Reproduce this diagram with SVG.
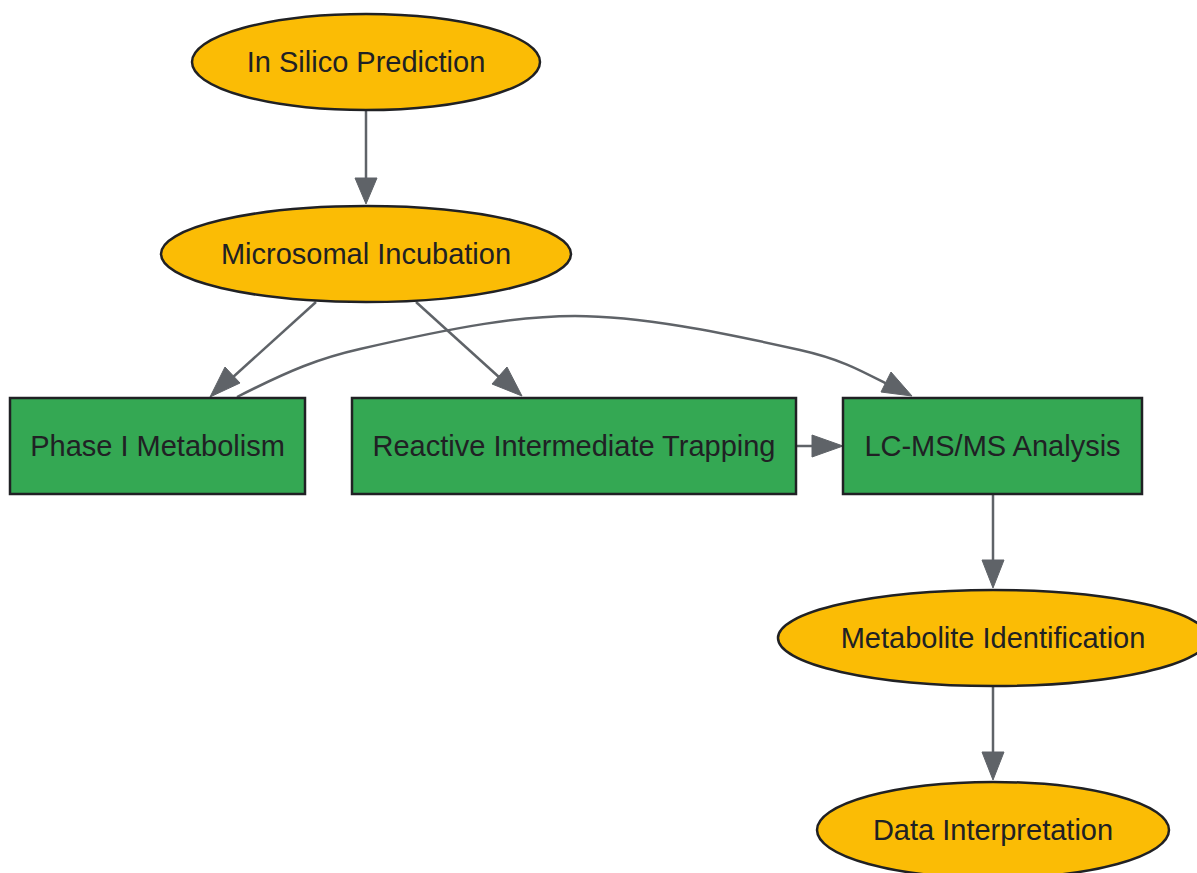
<svg xmlns="http://www.w3.org/2000/svg" width="1197" height="873" viewBox="0 0 1197 873">
<style>
.ell{fill:#FBBC05;stroke:#202124;stroke-width:2.5}
.box{fill:#34A853;stroke:#202124;stroke-width:2.5}
.lbl{font-family:"Liberation Sans",Arial,sans-serif;font-size:29px;fill:#202124;text-anchor:middle}
.edge{fill:none;stroke:#5F6368;stroke-width:2.5}
.head{fill:#5F6368;stroke:#5F6368;stroke-width:1}
</style>
<rect width="1197" height="873" fill="#ffffff"/>
<g id="connectors">
<path class="edge" d="M366,110 L366,178"/>
<polygon class="head" points="355,178 377,178 366,204"/>
<path class="edge" d="M316,302 L232,378"/>
<polygon class="head" points="225,367 240,383 210,397"/>
<path class="edge" d="M416,302 L500,378"/>
<polygon class="head" points="507,367 492,384 522,396"/>
<path class="edge" d="M237,397 C290,370 320,358 360,349 C460,326 520,316 575,316 C640,316 720,332 800,350 C840,359 860,370 887,384"/>
<polygon class="head" points="891,372 881,392 912,396"/>
<path class="edge" d="M796,446 L812,446"/>
<polygon class="head" points="812,435 812,457 843,446"/>
<path class="edge" d="M993,494 L993,560"/>
<polygon class="head" points="982,560 1004,560 993,588"/>
<path class="edge" d="M993,686 L993,752"/>
<polygon class="head" points="982,752 1004,752 993,780"/>
</g>
<g id="node-insilico">
<ellipse class="ell" cx="366" cy="62" rx="174" ry="48"/>
<text class="lbl" x="366" y="72">In Silico Prediction</text>
</g>
<g id="node-microsomal">
<ellipse class="ell" cx="366" cy="254" rx="205" ry="48"/>
<text class="lbl" x="366" y="264">Microsomal Incubation</text>
</g>
<g id="node-phase1">
<rect class="box" x="10" y="398" width="295" height="96"/>
<text class="lbl" x="157.5" y="456">Phase I Metabolism</text>
</g>
<g id="node-reactive">
<rect class="box" x="352" y="398" width="444" height="96"/>
<text class="lbl" x="574" y="456">Reactive Intermediate Trapping</text>
</g>
<g id="node-lcms">
<rect class="box" x="843" y="398" width="299" height="96"/>
<text class="lbl" x="992.5" y="456">LC-MS/MS Analysis</text>
</g>
<g id="node-metid">
<ellipse class="ell" cx="993" cy="638" rx="215" ry="48"/>
<text class="lbl" x="993" y="648">Metabolite Identification</text>
</g>
<g id="node-data">
<ellipse class="ell" cx="993" cy="830" rx="176" ry="48"/>
<text class="lbl" x="993" y="840">Data Interpretation</text>
</g>
</svg>
